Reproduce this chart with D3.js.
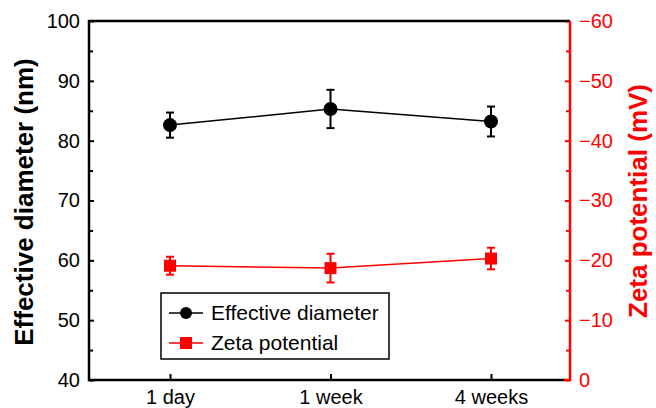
<!DOCTYPE html>
<html><head><meta charset="utf-8">
<script src="https://cdn.jsdelivr.net/npm/d3@7"></script>
<style>body{margin:0;background:#fff}svg{display:block;font-family:Arial,"Liberation Sans",sans-serif}</style>
</head><body><svg id="c" width="656" height="408"></svg>
<script>
const categories = ["1 day", "1 week", "4 weeks"];
const diameter = [82.6, 85.3, 83.2];
const diameterErr = [2.1, 3.2, 2.5];
const zeta = [-19.1, -18.7, -20.3];
const zetaErr = [1.5, 2.4, 1.8];
const leftTicks = [40, 50, 60, 70, 80, 90, 100];
const rightTicks = [0, -10, -20, -30, -40, -50, -60];

const svg = d3.select("#c");
const L = 89, R = 570, T = 21, B = 380;
const x = d3.scalePoint().domain(categories).range([170, 491]);
const yL = d3.scaleLinear().domain([40, 100]).range([B, T]);
const yR = d3.scaleLinear().domain([0, -60]).range([B, T]);
const red = "#ff0000";
const FONT = "Arial, 'Liberation Sans', sans-serif";

// left axis
const gL = svg.append("g").attr("transform", `translate(${L},0)`)
  .call(d3.axisLeft(yL).tickValues(leftTicks).tickSize(-5).tickPadding(9));
gL.select(".domain").remove();
svg.append("g").attr("transform", `translate(${L},0)`)
  .call(d3.axisLeft(yL).tickValues(d3.range(45, 100, 10)).tickSize(-4).tickFormat(""))
  .call(g => g.select(".domain").remove())
  .selectAll("line").attr("stroke", "#000").attr("stroke-width", 2);
gL.selectAll("text").attr("font-size", 20).attr("fill", "#000").attr("font-family", FONT);
gL.selectAll("line").attr("stroke", "#000").attr("stroke-width", 2);

// right axis
const gR = svg.append("g").attr("transform", `translate(${R},0)`)
  .call(d3.axisRight(yR).tickValues(rightTicks).tickSize(-5).tickPadding(9)
    .tickFormat(d => d === 0 ? "0" : "\u2212" + Math.abs(d)));
gR.select(".domain").remove();
svg.append("g").attr("transform", `translate(${R},0)`)
  .call(d3.axisRight(yR).tickValues(d3.range(-5, -60, -10)).tickSize(-4).tickFormat(""))
  .call(g => g.select(".domain").remove())
  .selectAll("line").attr("stroke", red).attr("stroke-width", 2);
gR.selectAll("text").attr("font-size", 20).attr("fill", red).attr("font-family", FONT);
gR.selectAll("line").attr("stroke", red).attr("stroke-width", 2);

// x axis
const gX = svg.append("g").attr("transform", `translate(0,${B})`)
  .call(d3.axisBottom(x).tickSize(-6).tickPadding(8));
gX.select(".domain").remove();
gX.selectAll("line").attr("stroke", "#000").attr("stroke-width", 2);
gX.selectAll("text").attr("font-size", 20).attr("fill", "#000").attr("font-family", FONT)
  .attr("y", 24).attr("dy", 0);

// frame
svg.append("path").attr("d", `M${R},${T}H${L}V${B}H${R - 6}`).attr("fill", "none").attr("stroke", "#000").attr("stroke-width", 2.5);
svg.append("path").attr("d", `M${R - 6},${B}H${R}V${T}`).attr("fill", "none").attr("stroke", red).attr("stroke-width", 2.5);

// axis titles
svg.append("text").attr("transform", `translate(33,202) rotate(-90)`)
  .attr("text-anchor", "middle").attr("font-size", 26).attr("font-weight", "bold").text("Effective diameter (nm)");
svg.append("text").attr("transform", `translate(647,201) rotate(-90)`)
  .attr("text-anchor", "middle").attr("font-size", 26).attr("font-weight", "bold").attr("fill", red).text("Zeta potential (mV)");

// series
function series(vals, errs, y, color, shape) {
  const pts = vals.map((v, i) => [x(categories[i]), y(v)]);
  svg.append("path").attr("d", d3.line()(pts)).attr("fill", "none").attr("stroke", color).attr("stroke-width", 1.5);
  vals.forEach((v, i) => {
    const cx = x(categories[i]);
    const y1 = y(v + errs[i]), y2 = y(v - errs[i]);
    svg.append("line").attr("x1", cx).attr("x2", cx).attr("y1", y1).attr("y2", y2).attr("stroke", color).attr("stroke-width", 2);
    [y1, y2].forEach(yy => svg.append("line").attr("x1", cx - 4).attr("x2", cx + 4).attr("y1", yy).attr("y2", yy).attr("stroke", color).attr("stroke-width", 2));
    if (shape === "circle") svg.append("circle").attr("cx", cx).attr("cy", y(v)).attr("r", 7).attr("fill", color);
    else svg.append("rect").attr("x", cx - 6).attr("y", y(v) - 6).attr("width", 12).attr("height", 12).attr("fill", color);
  });
}
series(diameter, diameterErr, yL, "#000", "circle");
series(zeta, zetaErr, yR, red, "square");

// legend
const lg = svg.append("g");
lg.append("rect").attr("x", 161).attr("y", 293).attr("width", 228).attr("height", 66).attr("fill", "#fff").attr("stroke", "#000").attr("stroke-width", 1.5);
[["Effective diameter", "#000", "circle", 313], ["Zeta potential", red, "square", 343]].forEach(([t, c, s, yy]) => {
  lg.append("line").attr("x1", 169).attr("x2", 203).attr("y1", yy).attr("y2", yy).attr("stroke", c).attr("stroke-width", 1.5);
  if (s === "circle") lg.append("circle").attr("cx", 186).attr("cy", yy).attr("r", 6).attr("fill", c);
  else lg.append("rect").attr("x", 180).attr("y", yy - 6).attr("width", 12).attr("height", 12).attr("fill", c);
  lg.append("text").attr("x", 211).attr("y", yy + 7).attr("font-size", 21).text(t);
});
</script></body></html>
